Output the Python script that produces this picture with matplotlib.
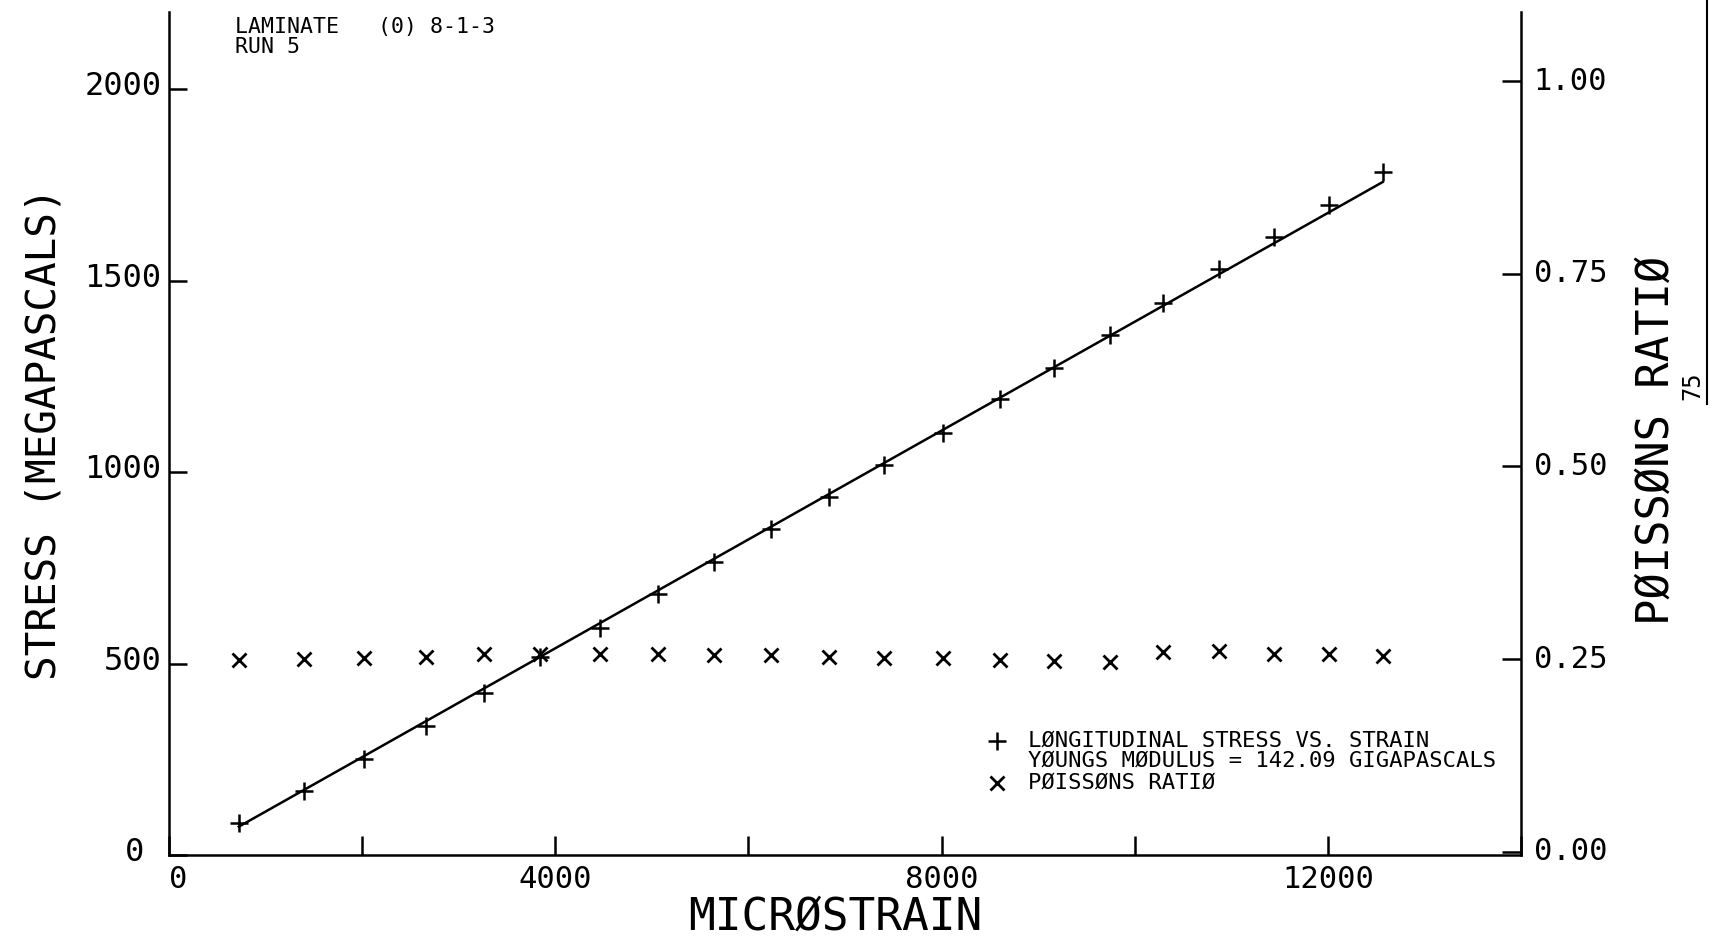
import numpy as np
import matplotlib
matplotlib.use("Agg")
import matplotlib.pyplot as plt
from matplotlib.transforms import ScaledTranslation

# =============================================================================
# TEST DATA  (laminate (0) 8-1-3, run 5)
# =============================================================================
MICROSTRAIN = [722, 1393, 2023, 2663, 3261, 3846, 4466, 5060, 5645, 6236, 6829,
               7399, 8019, 8604, 9161, 9739, 10289, 10874, 11438, 12010, 12567]
STRESS_MPA = [84, 167, 251, 337, 423, 518, 594, 681, 766, 850, 934,
              1018, 1103, 1190, 1272, 1359, 1442, 1530, 1613, 1697, 1784]
POISSON = [0.249, 0.250, 0.251, 0.253, 0.256, 0.257, 0.257, 0.256, 0.255, 0.255, 0.253,
           0.252, 0.252, 0.249, 0.247, 0.246, 0.259, 0.260, 0.257, 0.257, 0.254]
YOUNGS_GPA = 142.09

X_TICKS = [0, 2000, 4000, 6000, 8000, 10000, 12000, 14000]
X_TICK_LABELS = ["0", "", "4000", "", "8000", "", "12000", ""]
Y_TICKS = [0, 500, 1000, 1500, 2000]
Y_TICK_LABELS = ["0", "500", "1000", "1500", "2000"]
NU_TICKS = [0.0, 0.25, 0.50, 0.75, 1.00]
NU_TICK_LABELS = ["0.00", "0.25", "0.50", "0.75", "1.00"]

HEADER = ["LAMINATE   (0) 8-1-3", "RUN 5"]
LEGEND = ["LØNGITUDINAL STRESS VS. STRAIN",
          "YØUNGS MØDULUS = %.2f GIGAPASCALS" % YOUNGS_GPA,
          "PØISSØNS RATIØ"]

plt.rcParams["font.family"] = ["DejaVu Sans Mono", "DejaVu Sans"]
LW = 1.8


def shift(fig, dx_px, dy_px):
    return ScaledTranslation(dx_px / 100, dy_px / 100, fig.dpi_scale_trans)


def main():
    fig = plt.figure(figsize=(17.11, 9.47), dpi=100)
    ax = fig.add_axes([0.0988, 0.0971, 0.7902, 0.8898])
    ax2 = ax.twinx()

    strain = np.array(MICROSTRAIN, dtype=float)
    stress = np.array(STRESS_MPA, dtype=float)

    # fitted line with the reported modulus (GPa -> MPa per microstrain)
    slope = YOUNGS_GPA * 1e-3
    intercept = np.mean(stress - slope * strain)
    xs = np.array([strain[0], strain[-1]])
    ax.plot(xs, slope * xs + intercept, color="k", lw=LW)

    ax.plot(strain, stress, ls="none", marker="+", ms=12.5, mew=1.8, color="k")
    ax2.plot(strain, POISSON, ls="none", marker="x", ms=10.5, mew=2.0, color="k")

    # --- axes ---
    ax.set_xlim(0, 14000)
    ax.set_ylim(0, 2200)
    # plotter's poisson scale sits a little higher than the stress scale
    ax2.set_ylim(-0.0042, 1.089)

    for s in ["top", "right"]:
        ax.spines[s].set_visible(False)
    for s in ["top", "left", "bottom"]:
        ax2.spines[s].set_visible(False)
    for s in ["left", "bottom"]:
        ax.spines[s].set_linewidth(LW)
    ax2.spines["right"].set_linewidth(LW)

    ax.set_xticks(X_TICKS)
    ax.set_xticklabels(X_TICK_LABELS)
    ax.set_yticks(Y_TICKS)
    ax.set_yticklabels(Y_TICK_LABELS)
    ax2.set_yticks(NU_TICKS)
    ax2.set_yticklabels(NU_TICK_LABELS)

    ax.tick_params(axis="x", direction="in", length=14, width=LW, labelsize=22, pad=7)
    ax.tick_params(axis="y", direction="in", length=13, width=LW, labelsize=23, pad=5.5)
    ax2.tick_params(axis="y", direction="in", length=14, width=LW, labelsize=22, pad=9)

    ylabs = ax.get_yticklabels()
    for lab in ylabs:
        lab.set_transform(lab.get_transform() + shift(fig, 0, 6))
    # the zero on the stress scale is set further in from the axis
    ylabs[0].set_transform(ylabs[0].get_transform() + shift(fig, -17, 0))
    xlabs = ax.get_xticklabels()
    xlabs[0].set_transform(xlabs[0].get_transform() + shift(fig, 9, 0))
    for lab in ax2.get_yticklabels():
        lab.set_transform(lab.get_transform() + shift(fig, 0, 3))

    ax.set_xlabel("MICRØSTRAIN", fontsize=32, va="center")
    ax.xaxis.set_label_coords(0.4926, -0.074)
    ax.set_ylabel("STRESS (MEGAPASCALS)", fontsize=29.5, va="center")
    ax.yaxis.set_label_coords(-0.092, 0.5)
    ax2.set_ylabel("PØISSØNS RATIØ", fontsize=31.5, va="center", rotation=90)
    ax2.yaxis.set_label_coords(1.1, 0.492)

    # --- header and key ---
    ax.text(0.049, 0.983, HEADER[0], transform=ax.transAxes, fontsize=15.5, va="center")
    ax.text(0.049, 0.959, HEADER[1], transform=ax.transAxes, fontsize=15.5, va="center")

    key_y = [0.1355, 0.112, 0.0855]
    for txt, y in zip(LEGEND, key_y):
        ax.text(0.6354, y, txt, transform=ax.transAxes, fontsize=16, va="center")
    ax.plot([0.6124], [key_y[0]], transform=ax.transAxes, marker="+", ms=12.5,
            mew=1.8, color="k", ls="none")
    ax.plot([0.6124], [key_y[2]], transform=ax.transAxes, marker="x", ms=10.5,
            mew=2.0, color="k", ls="none")

    # page number and sheet edge
    fig.text(1692 / 1711, 1 - 386 / 947, "75", rotation=90, fontsize=17,
             ha="center", va="center")
    fig.add_artist(plt.Line2D([1707 / 1711, 1707 / 1711], [1.0, 1 - 404 / 947],
                              color="k", lw=1.5))

    fig.savefig("out.png", dpi=100)


if __name__ == "__main__":
    main()
